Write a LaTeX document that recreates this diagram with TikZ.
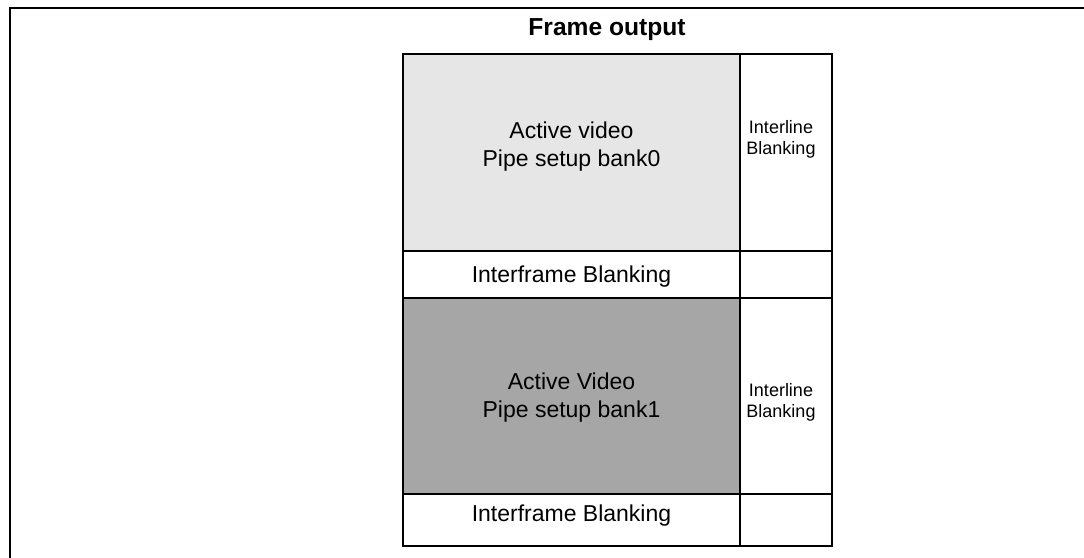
\documentclass[tikz,border=0pt]{standalone}
\usepackage{fontspec}
\setmainfont{Liberation Sans}
\usepackage{xcolor}
\usetikzlibrary{positioning,calc}
\definecolor{bankzero}{HTML}{E6E6E6}
\definecolor{bankone}{HTML}{A6A6A6}
\tikzset{
    cell/.style={draw=black, line width=0.65pt},
    bigtxt/.style={align=center, font=\fontsize{11.5}{14}\selectfont, inner sep=0pt},
    smalltxt/.style={align=center, font=\fontsize{9}{10.5}\selectfont, inner sep=0pt}
}
\begin{document}
\begin{tikzpicture}[x=0.5pt, y=-0.5pt]
    \useasboundingbox (0,0) rectangle (1084,558);
    \clip (0,0) rectangle (1084,558);
    \draw[line width=1.25pt] (10,570) -- (10,8) -- (1100,8); % outer frame

    \node[font=\fontsize{12.3}{14}\selectfont\bfseries, inner sep=0pt] (title) at (607,30) {Frame output};

    % bank0
    \draw[cell, fill=bankzero] (403,54) rectangle (740,251);
    \draw[cell] (740,54) rectangle (832,251);
    \draw[cell] (403,251) rectangle (740,298);
    \draw[cell] (740,251) rectangle (832,298);
    \node[bigtxt] (act0) at (571.5,147) {Active video\\Pipe setup bank0};
    \node[smalltxt] (line0) at (781,139.5) {Interline\\Blanking};
    \node[bigtxt] (frame0) at (571.5,277) {Interframe Blanking};

    % bank1
    \draw[cell, fill=bankone] (403,298) rectangle (740,494);
    \draw[cell] (740,298) rectangle (832,494);
    \draw[cell] (403,494) rectangle (740,546);
    \draw[cell] (740,494) rectangle (832,546);
    \node[bigtxt] (act1) at (571.5,398) {Active Video\\Pipe setup bank1};
    \node[smalltxt] (line1) at (781,402) {Interline\\Blanking};
    \node[bigtxt] (frame1) at (571.5,516) {Interframe Blanking};
\end{tikzpicture}
\end{document}
